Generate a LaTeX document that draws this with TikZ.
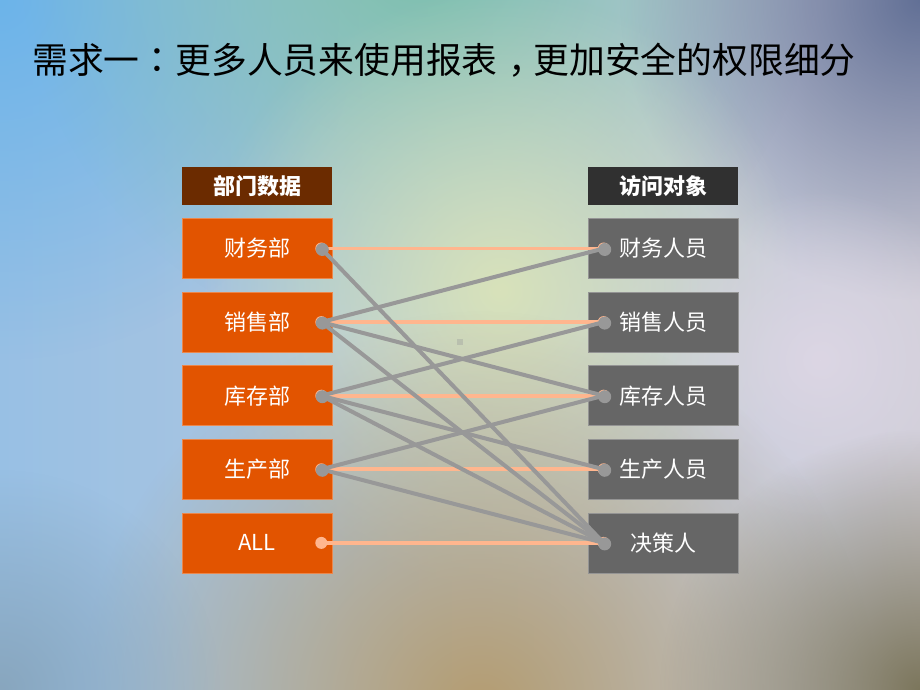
\documentclass[tikz,border=0pt]{standalone}
\usepackage{fontspec}
\newfontfamily\cjk{Noto Sans CJK SC}
\newfontfamily\cjkpunct{Noto Sans CJK TC}
\usetikzlibrary{positioning}
\usetikzlibrary{fadings}

\definecolor{bgleft}{RGB}{152,192,228}
\definecolor{bgmid}{RGB}{188,212,184}
\definecolor{bgright}{RGB}{208,206,216}
\definecolor{bgblue}{RGB}{108,180,234}
\definecolor{bgteal}{RGB}{124,192,172}
\definecolor{bgslate}{RGB}{98,112,150}
\definecolor{bgcream}{RGB}{216,226,186}
\definecolor{bglilac}{RGB}{220,214,228}
\definecolor{bgtan}{RGB}{180,156,112}
\definecolor{bgdark}{RGB}{124,118,92}
\definecolor{bgsteel}{RGB}{136,166,190}
\definecolor{deptfill}{RGB}{226,84,0}
\definecolor{depthead}{RGB}{107,43,0}
\definecolor{userfill}{RGB}{102,102,102}
\definecolor{userhead}{RGB}{48,48,48}
\definecolor{linkorange}{RGB}{255,182,142}
\definecolor{linkgray}{RGB}{152,152,152}

\tikzfading[name=glow, inner color=transparent!0, outer color=transparent!100]

\tikzset{
  box/.style={minimum width=150pt, minimum height=60pt, inner sep=0pt,
    text=white, font=\cjk\fontsize{22}{26}\selectfont},
  headbox/.style={box, minimum height=38pt, font=\cjk\bfseries\fontsize{22}{26}\selectfont},
  dept/.style={box, fill=deptfill, draw=deptfill!70!white, line width=0.6pt},
  user/.style={box, fill=userfill, draw=userfill!70!white, line width=0.6pt},
  orangelink/.style={linkorange, line width=3.8pt},
  graylink/.style={linkgray, line width=4pt, line cap=round},
}

\begin{document}
\begin{tikzpicture}[x=1pt,y=1pt]
  \useasboundingbox (0,0) rectangle (920,690);
  % background
  \shade[left color=bgleft, middle color=bgmid, right color=bgright] (0,0) rectangle (920,690);
  \fill[bgblue, path fading=glow] (0,690) circle (360);
  \fill[bgteal, path fading=glow] (420,740) circle (400);
  \fill[bgslate, path fading=glow] (920,690) circle (300);
  \fill[bgcream, path fading=glow] (500,400) circle (300);
  \fill[bglilac, path fading=glow] (820,330) circle (170);
  \fill[bgtan, path fading=glow] (480,-20) circle (400);
  \fill[bgdark, path fading=glow] (920,0) circle (260);
  \fill[bgsteel, path fading=glow] (0,0) circle (220);

  % title
  \node (title) [anchor=west, inner sep=0pt, font=\cjk\fontsize{35.8}{40}\selectfont]
    at (32,630) {需求一{\cjkpunct ：}更多人员来使用报表\hspace{0.3em}，\hspace{-0.3em}更加安全的权限细分};

  % department column
  \node (dh) [headbox, fill=depthead] at (257,504) {部门数据};
  \node (d1) [dept, below=13pt of dh] {财务部};
  \node (d2) [dept, below=13pt of d1] {销售部};
  \node (d3) [dept, below=13pt of d2] {库存部};
  \node (d4) [dept, below=13pt of d3] {生产部};
  \node (d5) [dept, below=13pt of d4] {ALL};

  % user column
  \node (uh) [headbox, fill=userhead] at (663,504) {访问对象};
  \node (u1) [user, below=13pt of uh] {财务人员};
  \node (u2) [user, below=13pt of u1] {销售人员};
  \node (u3) [user, below=13pt of u2] {库存人员};
  \node (u4) [user, below=13pt of u3] {生产人员};
  \node (u5) [user, below=13pt of u4] {决策人};

  % link ends
  \foreach \i in {1,...,5} {
    \coordinate (l\i) at ([xshift=-11pt]d\i.east);
    \coordinate (r\i) at ([xshift=16pt]u\i.west);
  }

  % same-level access
  \foreach \i in {1,...,5} {
    \draw[orangelink] (l\i) -- (r\i);
    \fill[linkorange] (l\i) circle (6);
    \fill[linkorange] (r\i) circle (6);
  }

  % cross access
  \draw[graylink] (l1) -- (r5);
  \draw[graylink] (l2) -- (r1);
  \draw[graylink] (l2) -- (r3);
  \draw[graylink] (l2) -- (r5);
  \draw[graylink] (l3) -- (r2);
  \draw[graylink] (l3) -- (r4);
  \draw[graylink] (l3) -- (r5);
  \draw[graylink] (l4) -- (r3);
  \draw[graylink] (l4) -- (r5);
  \foreach \p in {l1,l2,l3,l4,r1,r2,r3,r4,r5}
    \fill[linkgray] ([shift={(1,-1)}]\p) circle (6.5);

  % small mark in the middle
  \fill[linkgray, opacity=0.35] (457,345) rectangle (463,351);
\end{tikzpicture}
\end{document}
